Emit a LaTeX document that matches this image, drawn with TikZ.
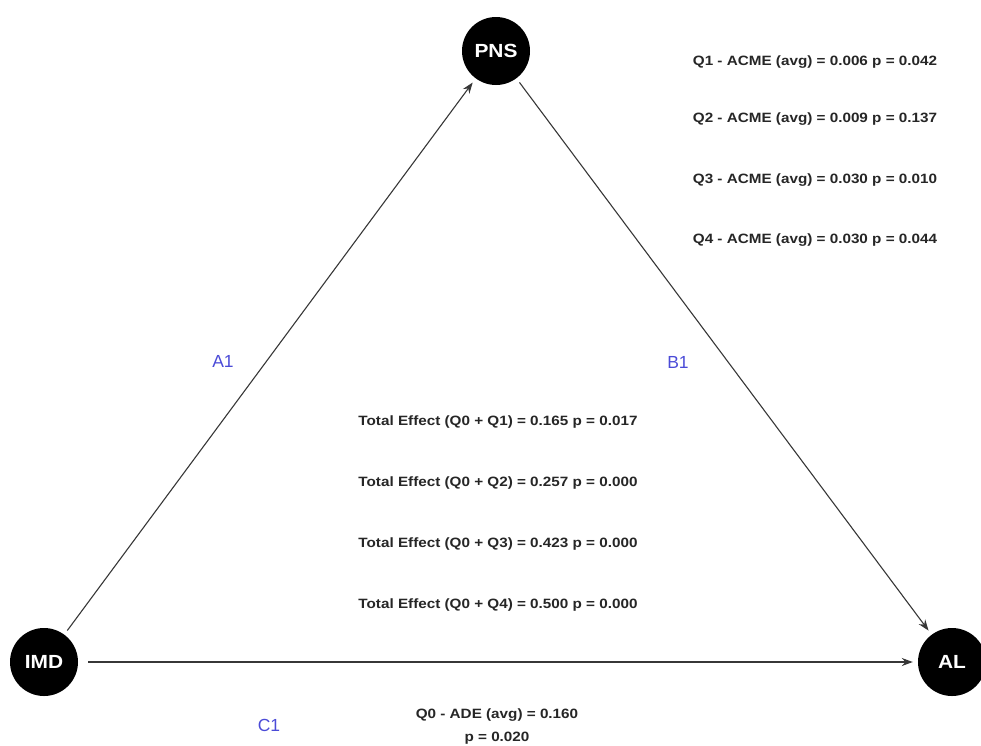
\documentclass[tikz,border=0pt]{standalone}
\usepackage{fontspec}
\setmainfont{Liberation Sans}
\usetikzlibrary{arrows.meta}
\definecolor{lbl}{RGB}{75,75,215}
\definecolor{edge}{RGB}{55,55,55}
\newcommand{\wid}[1]{\scalebox{1.13}[1]{#1}}
\tikzset{
  var/.style={circle,fill=black,minimum size=68pt,inner sep=0pt,text=white,font=\fontsize{19}{21}\selectfont\bfseries},
  conn/.style={draw=edge,line width=1.1pt,-{Stealth[length=11pt,width=8pt]},shorten >=5pt,shorten <=5pt},
  stat/.style={font=\fontsize{13.5}{16}\selectfont\bfseries,text=black!85,inner sep=0pt},
  pathlbl/.style={font=\fontsize{17.5}{19}\selectfont,text=lbl,inner sep=0pt}
}
\begin{document}
\begin{tikzpicture}[x=1pt,y=-1pt]
\useasboundingbox (0,0) rectangle (981,745);
\node[var] (pns) at (496,51) {\scalebox{1.1}[1]{PNS}};
\node[var] (imd) at (44,662) {\scalebox{1.1}[1]{IMD}};
\node[var] (al) at (952,662) {\scalebox{1.1}[1]{AL}};
\draw[conn] (imd) -- (pns);
\draw[conn] (pns) -- (al);
\draw[conn,shorten <=10pt] (imd) -- (al);
\node[pathlbl] (a1) at (223,361) {A1};
\node[pathlbl] (b1) at (678,362) {B1};
\node[pathlbl] (c1) at (269,725) {C1};
\node[stat] (q1) at (815,62) {\wid{Q1 - ACME (avg) = 0.006 p = 0.042}};
\node[stat] (q2) at (815,119) {\wid{Q2 - ACME (avg) = 0.009 p = 0.137}};
\node[stat] (q3) at (815,180) {\wid{Q3 - ACME (avg) = 0.030 p = 0.010}};
\node[stat] (q4) at (815,240) {\wid{Q4 - ACME (avg) = 0.030 p = 0.044}};
\node[stat] (t1) at (498,422) {\wid{Total Effect (Q0 + Q1) = 0.165 p = 0.017}};
\node[stat] (t2) at (498,483) {\wid{Total Effect (Q0 + Q2) = 0.257 p = 0.000}};
\node[stat] (t3) at (498,544) {\wid{Total Effect (Q0 + Q3) = 0.423 p = 0.000}};
\node[stat] (t4) at (498,605) {\wid{Total Effect (Q0 + Q4) = 0.500 p = 0.000}};
\node[stat] (ade1) at (497,715) {\wid{Q0 - ADE (avg) = 0.160}};
\node[stat] (ade2) at (497,738) {\wid{p = 0.020}};
\end{tikzpicture}
\end{document}
